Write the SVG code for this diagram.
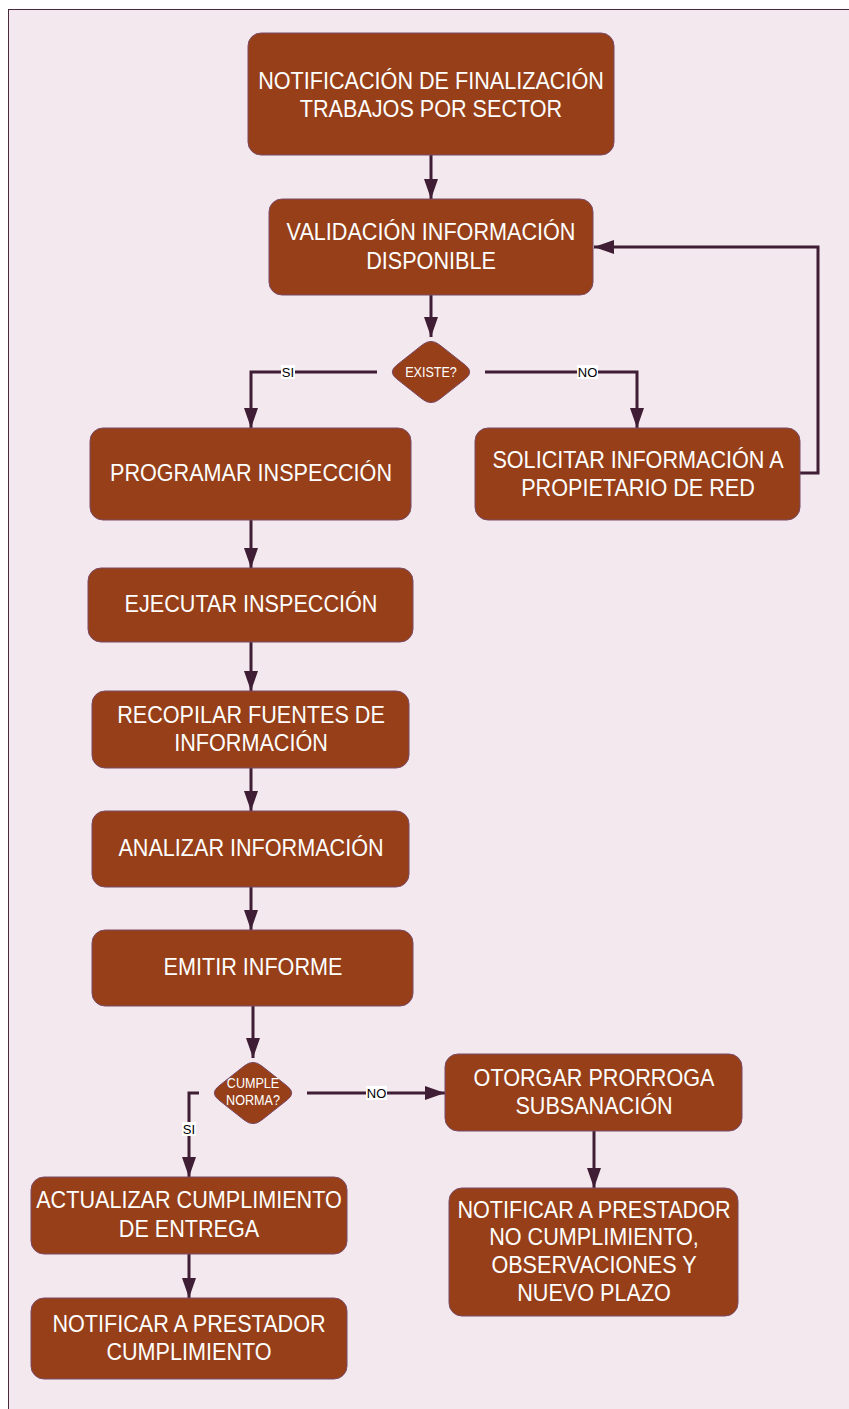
<svg xmlns="http://www.w3.org/2000/svg" width="849" height="1409" viewBox="0 0 849 1409">
<style>
.bg{fill:#f3e8ed;stroke:#4a2a3a;stroke-width:1}
.n{fill:#963f19;stroke:#7a4a66;stroke-width:1}
.t{font-family:"Liberation Sans",Arial,sans-serif;font-size:24px;fill:#ffffff;text-anchor:middle}
.ts{font-family:"Liberation Sans",Arial,sans-serif;font-size:14px;fill:#ffffff;text-anchor:middle}
.c{fill:none;stroke:#3f1d35;stroke-width:3}
.lb{fill:#ffffff}
.lt{font-family:"Liberation Sans",Arial,sans-serif;font-size:13px;fill:#000000;text-anchor:middle}
</style>
<defs>
<marker id="ah" markerUnits="userSpaceOnUse" viewBox="0 0 20 14" markerWidth="20" markerHeight="14" refX="20" refY="7" orient="auto">
<path d="M0,0 L20,7 L0,14 z" fill="#3f1d35"/>
</marker>
<path id="dia" d="M8.6,-27.2 L34.4,-6.8 Q43,0 34.4,6.8 L8.6,27.2 Q0,34 -8.6,27.2 L-34.4,6.8 Q-43,0 -34.4,-6.8 L-8.6,-27.2 Q0,-34 8.6,-27.2 Z"/>
</defs>
<rect class="bg" x="8.5" y="9.5" width="850" height="1410"/>

<g id="connectors">
<path class="c" d="M431,155 V199" marker-end="url(#ah)"/>
<path class="c" d="M431,295 V337" marker-end="url(#ah)"/>
<path class="c" d="M377,372 H251 V428" marker-end="url(#ah)"/>
<path class="c" d="M485,372 H637 V428" marker-end="url(#ah)"/>
<path class="c" d="M800,473 H818 V247 H594" marker-end="url(#ah)"/>
<path class="c" d="M251,520 V568" marker-end="url(#ah)"/>
<path class="c" d="M251,642 V691" marker-end="url(#ah)"/>
<path class="c" d="M251,768 V811" marker-end="url(#ah)"/>
<path class="c" d="M251,887 V930" marker-end="url(#ah)"/>
<path class="c" d="M253,1006 V1058" marker-end="url(#ah)"/>
<path class="c" d="M199,1093 H189 V1177" marker-end="url(#ah)"/>
<path class="c" d="M307,1093 H445" marker-end="url(#ah)"/>
<path class="c" d="M594,1131 V1188" marker-end="url(#ah)"/>
<path class="c" d="M189,1254 V1298" marker-end="url(#ah)"/>
<rect class="lb" x="281" y="365" width="14" height="14"/>
<text class="lt" x="288" y="377">SI</text>
<rect class="lb" x="577" y="365" width="21" height="14"/>
<text class="lt" x="587.5" y="377">NO</text>
<rect class="lb" x="182" y="1122" width="14" height="14"/>
<text class="lt" x="189" y="1134">SI</text>
<rect class="lb" x="366" y="1086" width="21" height="14"/>
<text class="lt" x="376.5" y="1098">NO</text>
</g>

<g id="n1">
<rect class="n" x="248" y="33" width="366" height="122" rx="13"/>
<text class="t" transform="translate(431 0) scale(0.9 1)"><tspan x="0" y="89">NOTIFICACIÓN DE FINALIZACIÓN</tspan><tspan x="0" y="117">TRABAJOS POR SECTOR</tspan></text>
</g>
<g id="n2">
<rect class="n" x="269" y="199" width="324" height="96" rx="13"/>
<text class="t" transform="translate(431 0) scale(0.9 1)"><tspan x="0" y="240">VALIDACIÓN INFORMACIÓN</tspan><tspan x="0" y="269">DISPONIBLE</tspan></text>
</g>
<g id="d1">
<use href="#dia" transform="translate(431 372)" fill="#963f19" stroke="#7a4a66" stroke-width="1"/>
<text class="ts" transform="translate(431 0) scale(0.9 1)"><tspan x="0" y="377">EXISTE?</tspan></text>
</g>
<g id="n3">
<rect class="n" x="90" y="428" width="321" height="92" rx="13"/>
<text class="t" transform="translate(251 0) scale(0.9 1)"><tspan x="0" y="481">PROGRAMAR INSPECCIÓN</tspan></text>
</g>
<g id="n4">
<rect class="n" x="475" y="428" width="325" height="92" rx="13"/>
<text class="t" transform="translate(638 0) scale(0.9 1)"><tspan x="0" y="468">SOLICITAR INFORMACIÓN A</tspan><tspan x="0" y="496">PROPIETARIO DE RED</tspan></text>
</g>
<g id="n5">
<rect class="n" x="88" y="568" width="325" height="74" rx="13"/>
<text class="t" transform="translate(251 0) scale(0.9 1)"><tspan x="0" y="612">EJECUTAR INSPECCIÓN</tspan></text>
</g>
<g id="n6">
<rect class="n" x="92" y="691" width="317" height="77" rx="13"/>
<text class="t" transform="translate(251 0) scale(0.9 1)"><tspan x="0" y="723">RECOPILAR FUENTES DE</tspan><tspan x="0" y="751">INFORMACIÓN</tspan></text>
</g>
<g id="n7">
<rect class="n" x="92" y="811" width="317" height="76" rx="13"/>
<text class="t" transform="translate(251 0) scale(0.9 1)"><tspan x="0" y="856">ANALIZAR INFORMACIÓN</tspan></text>
</g>
<g id="n8">
<rect class="n" x="92" y="930" width="321" height="76" rx="13"/>
<text class="t" transform="translate(253 0) scale(0.9 1)"><tspan x="0" y="975">EMITIR INFORME</tspan></text>
</g>
<g id="d2">
<use href="#dia" transform="translate(253 1093)" fill="#963f19" stroke="#7a4a66" stroke-width="1"/>
<text class="ts" transform="translate(253 0) scale(0.9 1)"><tspan x="0" y="1088">CUMPLE</tspan><tspan x="0" y="1105">NORMA?</tspan></text>
</g>
<g id="n9">
<rect class="n" x="445" y="1054" width="297" height="77" rx="13"/>
<text class="t" transform="translate(594 0) scale(0.9 1)"><tspan x="0" y="1086">OTORGAR PRORROGA</tspan><tspan x="0" y="1114">SUBSANACIÓN</tspan></text>
</g>
<g id="n10">
<rect class="n" x="449" y="1188" width="289" height="128" rx="13"/>
<text class="t" transform="translate(594 0) scale(0.9 1)"><tspan x="0" y="1218">NOTIFICAR A PRESTADOR</tspan><tspan x="0" y="1245">NO CUMPLIMIENTO,</tspan><tspan x="0" y="1273">OBSERVACIONES Y</tspan><tspan x="0" y="1301">NUEVO PLAZO</tspan></text>
</g>
<g id="n11">
<rect class="n" x="31" y="1177" width="316" height="77" rx="13"/>
<text class="t" transform="translate(189 0) scale(0.9 1)"><tspan x="0" y="1208">ACTUALIZAR CUMPLIMIENTO</tspan><tspan x="0" y="1237">DE ENTREGA</tspan></text>
</g>
<g id="n12">
<rect class="n" x="31" y="1298" width="316" height="81" rx="13"/>
<text class="t" transform="translate(189 0) scale(0.9 1)"><tspan x="0" y="1332">NOTIFICAR A PRESTADOR</tspan><tspan x="0" y="1360">CUMPLIMIENTO</tspan></text>
</g>
</svg>
